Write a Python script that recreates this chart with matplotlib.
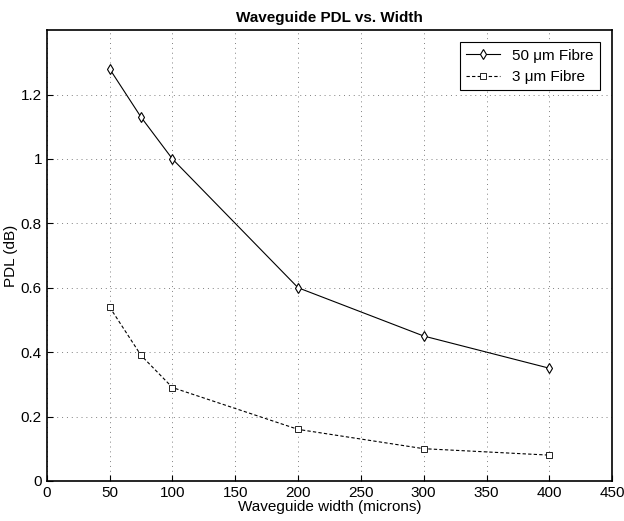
import matplotlib.pyplot as plt

plt.rcParams['font.family'] = ['Liberation Sans', 'DejaVu Sans']

widths = [50, 75, 100, 200, 300, 400]
pdl_50um = [1.28, 1.13, 1.0, 0.6, 0.45, 0.35]
pdl_3um = [0.54, 0.39, 0.29, 0.16, 0.10, 0.08]

fig = plt.figure(figsize=(6.24, 5.21), dpi=100)
ax = fig.add_axes([0.075, 0.077, 0.906, 0.865])

ax.plot(widths, pdl_50um, '-', color='black', lw=0.8, marker='d',
        markersize=5, markerfacecolor='white', markeredgewidth=0.8,
        label='50 \u03bcm Fibre')
ax.plot(widths, pdl_3um, '--', color='black', lw=0.8, marker='s',
        markersize=4.5, markerfacecolor='white', markeredgewidth=0.6,
        dashes=(3, 2), label='3 \u03bcm Fibre')

ax.set_xlim(0, 450)
ax.set_ylim(0, 1.4)
ax.set_xticks(range(0, 451, 50))
ax.set_yticks([0, 0.2, 0.4, 0.6, 0.8, 1.0, 1.2])
ax.set_yticklabels(['0', '0.2', '0.4', '0.6', '0.8', '1', '1.2'])
ax.grid(True, linestyle=(0, (1, 4)), color='gray', lw=0.7)
ax.tick_params(direction='in', labelsize=11, length=4)
for s in ax.spines.values():
    s.set_linewidth(1.2)

ax.set_title('Waveguide PDL vs. Width', fontsize=11, fontweight='bold', pad=6)
ax.set_xlabel('Waveguide width (microns)', fontsize=11, labelpad=0)
ax.set_ylabel('PDL (dB)', fontsize=11, labelpad=2)

leg = ax.legend(loc='upper right', fontsize=11, fancybox=False,
                edgecolor='black', framealpha=1, handlelength=2.2,
                borderaxespad=0.8)
leg.get_frame().set_linewidth(0.8)

fig.savefig('out.png', dpi=100)
